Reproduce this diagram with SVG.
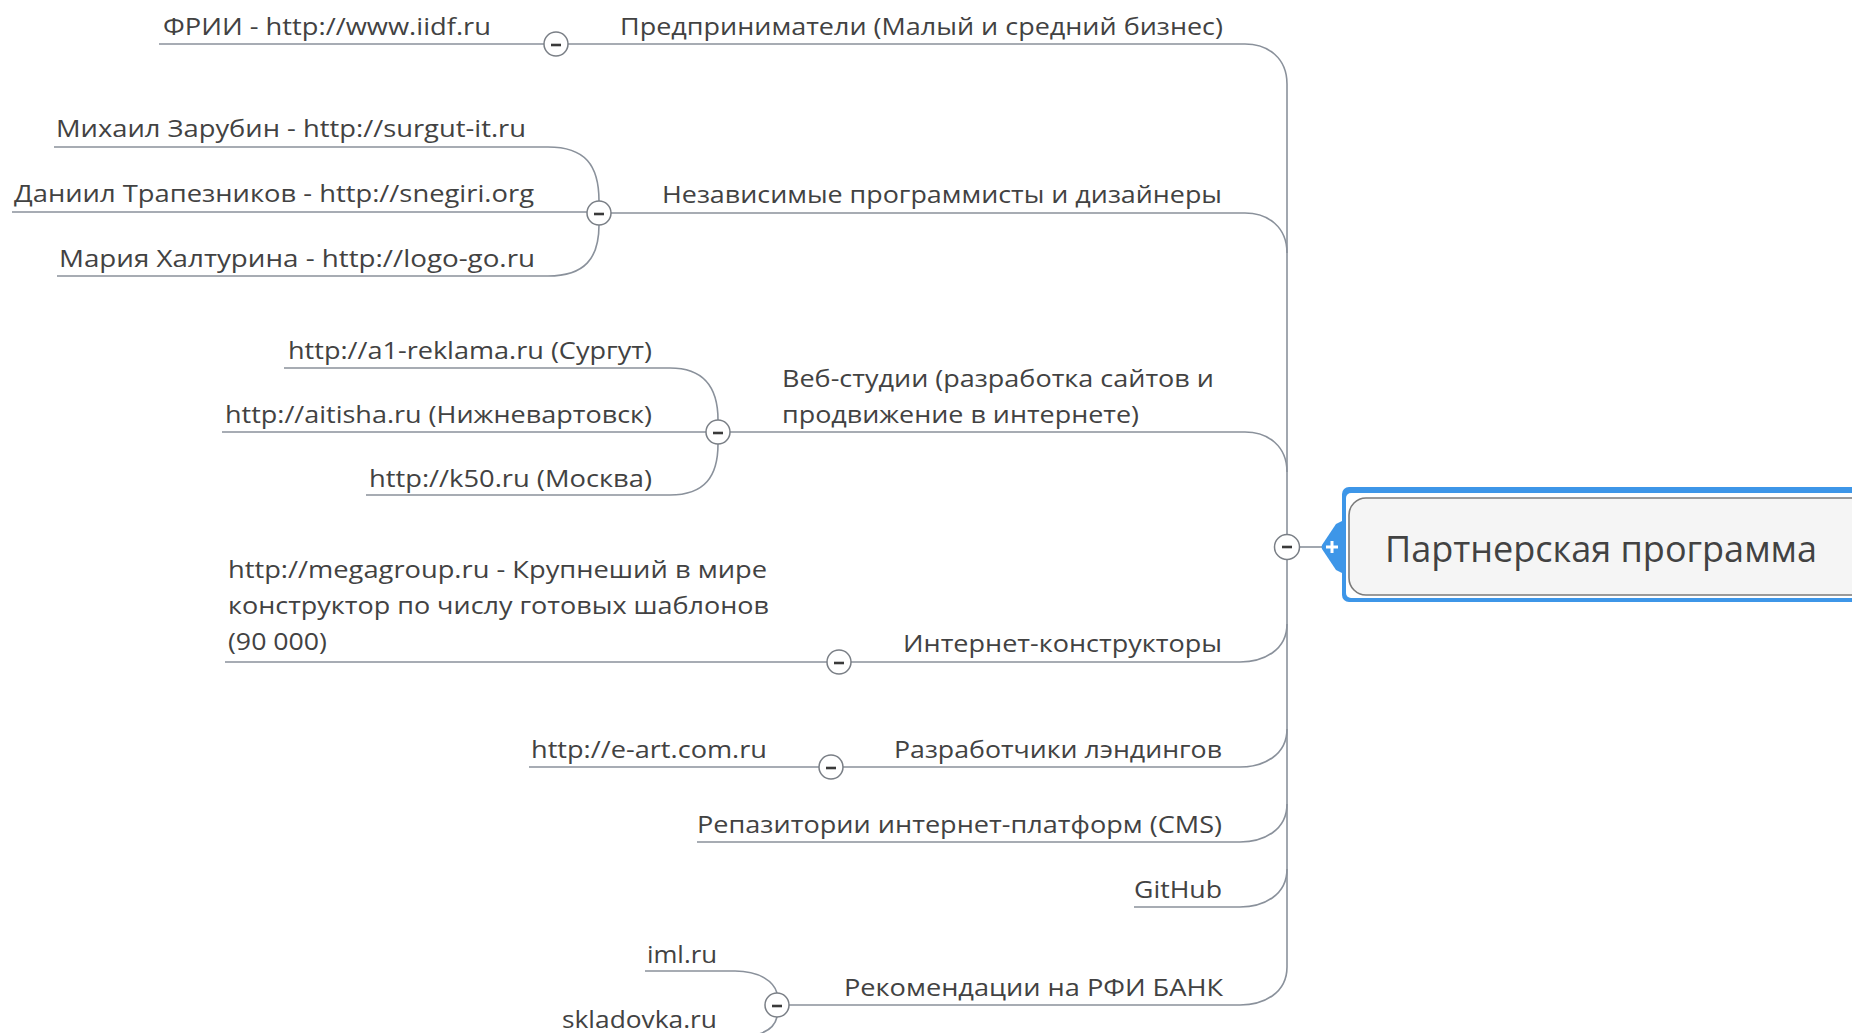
<svg xmlns="http://www.w3.org/2000/svg" width="1852" height="1033" viewBox="0 0 1852 1033">
<style>
.t{font-family:"Open Sans","Noto Sans","DejaVu Sans",sans-serif;font-size:23.5px;fill:#424242}
.c{fill:none;stroke:#8a919b;stroke-width:1.6}
.tog circle{fill:#fff;stroke:#7a7f86;stroke-width:1.5}
.tog line{stroke:#3a3a3a;stroke-width:2.6}
</style>
<rect width="1852" height="1033" fill="#fff"/>
<g id="connectors">
<path class="c" d="M1287,84 V967"/>
<path class="c" d="M1300,547 H1322"/>
<path class="c" d="M544,44 H1245 C1268,44 1287,58 1287,84"/>
<path class="c" d="M587,213 H1245 C1268,213 1287,227 1287,253"/>
<path class="c" d="M706,432 H1245 C1268,432 1287,446 1287,472"/>
<path class="c" d="M827,662 H1240 C1264,662 1287,650 1287,624"/>
<path class="c" d="M819,767 H1240 C1264,767 1287,755 1287,729"/>
<path class="c" d="M697,842 H1240 C1264,842 1287,830 1287,804"/>
<path class="c" d="M1134,907 H1240 C1264,907 1287,895 1287,869"/>
<path class="c" d="M765,1005 H1240 C1264,1005 1287,993 1287,967"/>
<path class="c" d="M159,44 H544"/>
<path class="c" d="M54,147 H548 C585,147 599,165 599,201"/>
<path class="c" d="M12,212 H587"/>
<path class="c" d="M57,276 H548 C585,276 599,258 599,225"/>
<path class="c" d="M284,368 H670 C705,368 718,388 718,420"/>
<path class="c" d="M222,432 H706"/>
<path class="c" d="M366,495 H670 C705,495 718,476 718,444"/>
<path class="c" d="M225,662 H827"/>
<path class="c" d="M529,767 H819"/>
<path class="c" d="M645,971 H735 C760,971 774,982 777,993"/>
<path class="c" d="M777,1017 C774,1030 760,1037 735,1037 H560"/>
</g>
<g id="central">
<rect x="1342" y="487" width="560" height="115" rx="7" fill="#3d96e8"/>
<path d="M1344,520 L1336,524 L1322,545 Q1321,547 1322,549 L1336,570 L1344,574 Z" fill="#3d96e8"/>
<rect x="1346" y="493" width="560" height="105" rx="5" fill="#fff"/>
<rect x="1349" y="498" width="560" height="97" rx="17" fill="#f5f5f5" stroke="#7b7b7b" stroke-width="1.6"/>
<path d="M1332,541 V553 M1326,547 H1338" stroke="#fff" stroke-width="3"/>
<text x="1385" y="562" class="t" style="font-size:36px" textLength="432" lengthAdjust="spacingAndGlyphs">Партнерская программа</text>
</g>
<g class="tog" id="toggles">
<g><circle cx="1287" cy="547" r="12.5"/><line x1="1282" y1="547" x2="1292" y2="547"/></g>
<g><circle cx="556" cy="44" r="12"/><line x1="551" y1="45" x2="561" y2="45"/></g>
<g><circle cx="599" cy="213" r="12"/><line x1="594" y1="214" x2="604" y2="214"/></g>
<g><circle cx="718" cy="432" r="12"/><line x1="713" y1="433" x2="723" y2="433"/></g>
<g><circle cx="839" cy="662" r="12"/><line x1="834" y1="663" x2="844" y2="663"/></g>
<g><circle cx="831" cy="767" r="12"/><line x1="826" y1="768" x2="836" y2="768"/></g>
<g><circle cx="777" cy="1005" r="12"/><line x1="772" y1="1006" x2="782" y2="1006"/></g>
</g>
<g id="n-predprinimateli"><text class="t" x="620" y="35" textLength="603" lengthAdjust="spacingAndGlyphs">Предприниматели (Малый и средний бизнес)</text></g>
<g id="n-frii"><text class="t" x="163" y="35" textLength="328" lengthAdjust="spacingAndGlyphs">ФРИИ - http://www.iidf.ru</text></g>
<g id="n-nezavisimye"><text class="t" x="662" y="203" textLength="560" lengthAdjust="spacingAndGlyphs">Независимые программисты и дизайнеры</text></g>
<g id="n-zarubin"><text class="t" x="56" y="137" textLength="470" lengthAdjust="spacingAndGlyphs">Михаил Зарубин - http://surgut-it.ru</text></g>
<g id="n-trapeznikov"><text class="t" x="14" y="202" textLength="520" lengthAdjust="spacingAndGlyphs">Даниил Трапезников - http://snegiri.org</text></g>
<g id="n-khalturina"><text class="t" x="59" y="267" textLength="476" lengthAdjust="spacingAndGlyphs">Мария Халтурина - http://logo-go.ru</text></g>
<g id="n-webstudii">
<text class="t" x="782" y="387" textLength="432" lengthAdjust="spacingAndGlyphs">Веб-студии (разработка сайтов и</text>
<text class="t" x="782" y="423" textLength="357" lengthAdjust="spacingAndGlyphs">продвижение в интернете)</text>
</g>
<g id="n-a1"><text class="t" x="288" y="359" textLength="364" lengthAdjust="spacingAndGlyphs">http://a1-reklama.ru (Сургут)</text></g>
<g id="n-aitisha"><text class="t" x="225" y="423" textLength="427" lengthAdjust="spacingAndGlyphs">http://aitisha.ru (Нижневартовск)</text></g>
<g id="n-k50"><text class="t" x="369" y="487" textLength="283" lengthAdjust="spacingAndGlyphs">http://k50.ru (Москва)</text></g>
<g id="n-konstruktory"><text class="t" x="903" y="652" textLength="319" lengthAdjust="spacingAndGlyphs">Интернет-конструкторы</text></g>
<g id="n-megagroup">
<text class="t" x="228" y="578" textLength="539" lengthAdjust="spacingAndGlyphs">http://megagroup.ru - Крупнеший в мире</text>
<text class="t" x="228" y="614" textLength="541" lengthAdjust="spacingAndGlyphs">конструктор по числу готовых шаблонов</text>
<text class="t" x="228" y="650" textLength="99" lengthAdjust="spacingAndGlyphs">(90 000)</text>
</g>
<g id="n-landing"><text class="t" x="894" y="758" textLength="328" lengthAdjust="spacingAndGlyphs">Разработчики лэндингов</text></g>
<g id="n-eart"><text class="t" x="531" y="758" textLength="236" lengthAdjust="spacingAndGlyphs">http://e-art.com.ru</text></g>
<g id="n-cms"><text class="t" x="697" y="833" textLength="525" lengthAdjust="spacingAndGlyphs">Репазитории интернет-платформ (CMS)</text></g>
<g id="n-github"><text class="t" x="1134" y="898" textLength="88" lengthAdjust="spacingAndGlyphs">GitHub</text></g>
<g id="n-rfi"><text class="t" x="844" y="996" textLength="379" lengthAdjust="spacingAndGlyphs">Рекомендации на РФИ БАНК</text></g>
<g id="n-iml"><text class="t" x="647" y="963" textLength="70" lengthAdjust="spacingAndGlyphs">iml.ru</text></g>
<g id="n-skladovka"><text class="t" x="562" y="1028" textLength="155" lengthAdjust="spacingAndGlyphs">skladovka.ru</text></g>
</svg>
